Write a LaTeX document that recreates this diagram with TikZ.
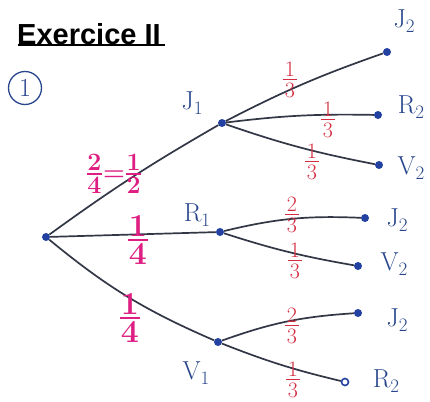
\documentclass[tikz,border=0pt]{standalone}
\usepackage{fontspec}
\newfontfamily\titlefont{Liberation Sans}
\definecolor{inkblue}{RGB}{40,70,140}
\definecolor{dotblue}{RGB}{35,65,160}
\definecolor{linegray}{RGB}{50,55,70}
\definecolor{mag}{RGB}{222,30,130}
\definecolor{redink}{RGB}{212,45,65}
\newcommand{\hf}[2]{$\vcenter{\offinterlineskip\halign{\hfil##\hfil\cr\hbox{#1}\cr\noalign{\kern2.5pt}\rule{0.62em}{1.6pt}\cr\noalign{\kern3pt}\hbox{#2}\cr}}$}
\newcommand{\lab}[2]{#1\raisebox{-0.22em}{\fontsize{19}{19}\selectfont #2}}
\tikzset{
  branch/.style={draw=linegray, line width=1.7pt},
  dotnode/.style={circle, fill=dotblue, inner sep=0pt, minimum size=8pt},
  lbl/.style={text=inkblue, font=\fontsize{26}{26}\selectfont, inner sep=0pt},
  magfrac/.style={text=mag, font=\fontsize{25}{25}\selectfont\bfseries, inner sep=0pt},
  bigfrac/.style={text=mag, font=\fontsize{32}{32}\selectfont\bfseries, inner sep=0pt},
  redfrac/.style={text=redink, font=\fontsize{22}{22}\selectfont, inner sep=0pt}
}
\begin{document}
\begin{tikzpicture}[x=1pt,y=-1pt]
\useasboundingbox[fill=white] (0,0) rectangle (430,401);
% title
\node[anchor=west, inner sep=0pt, font=\titlefont\bfseries\fontsize{29}{29}\selectfont] (title) at (17,34) {Exercice II};
\draw[line width=2pt] (18,45) -- (165,45);
\node[draw=inkblue, circle, line width=1.3pt, minimum size=33pt, inner sep=0pt, text=inkblue, font=\fontsize{26}{26}\selectfont] (q1) at (25,88) {1};
% dots
\node[dotnode] (root) at (46,237) {};
\node[dotnode] (J1) at (222,123) {};
\node[dotnode] (R1) at (220,232) {};
\node[dotnode] (V1) at (218,342) {};
\node[dotnode] (J2a) at (387,52) {};
\node[dotnode] (R2a) at (378,115) {};
\node[dotnode] (V2a) at (379,165) {};
\node[dotnode] (J2b) at (365,218) {};
\node[dotnode] (V2b) at (358,266) {};
\node[dotnode] (J2c) at (358,313) {};
\node[circle, draw=dotblue, line width=1.6pt, fill=white, inner sep=0pt, minimum size=7pt] (R2c) at (345,382) {};
% branches
\draw[branch] (root) to[bend left=3] (J1);
\draw[branch] (root) -- (R1);
\draw[branch] (root) to[bend right=8] (V1);
\draw[branch] (J1) to[bend left=4] (J2a);
\draw[branch] (J1) to[bend left=4] (R2a);
\draw[branch] (J1) to[bend right=4] (V2a);
\draw[branch] (R1) to[bend left=8] (J2b);
\draw[branch] (R1) to[bend right=4] (V2b);
\draw[branch] (V1) to[bend left=8] (J2c);
\draw[branch] (V1) to[bend right=4] (R2c);
% labels
\node[lbl] (lJ1) at (192,103) {\lab{J}{1}};
\node[lbl] (lR1) at (197,215) {\lab{R}{1}};
\node[lbl] (lV1) at (196,373) {\lab{V}{1}};
\node[lbl] (lJ2a) at (404,21) {\lab{J}{2}};
\node[lbl] (lR2a) at (411,107) {\lab{R}{2}};
\node[lbl] (lV2a) at (411,168) {\lab{V}{2}};
\node[lbl] (lJ2b) at (397,220) {\lab{J}{2}};
\node[lbl] (lV2b) at (394,264) {\lab{V}{2}};
\node[lbl] (lJ2c) at (397,320) {\lab{J}{2}};
\node[lbl] (lR2c) at (386,381) {\lab{R}{2}};
% probabilities
\node[magfrac] (p1) at (114,174) {\hf{2}{4}\kern1pt=\kern1pt\hf{1}{2}};
\node[bigfrac] (p2) at (138,240) {\hf{1}{4}};
\node[bigfrac] (p3) at (130,318) {\hf{1}{4}};
\node[redfrac] (q1a) at (290,80) {\hf{1}{3}};
\node[redfrac] (q1b) at (328,120) {\hf{1}{3}};
\node[redfrac] (q1c) at (312,162) {\hf{1}{3}};
\node[redfrac] (q2a) at (292,215) {\hf{2}{3}};
\node[redfrac] (q2b) at (295,261) {\hf{1}{3}};
\node[redfrac] (q3a) at (292,326) {\hf{2}{3}};
\node[redfrac] (q3b) at (293,380) {\hf{1}{3}};
\end{tikzpicture}
\end{document}
